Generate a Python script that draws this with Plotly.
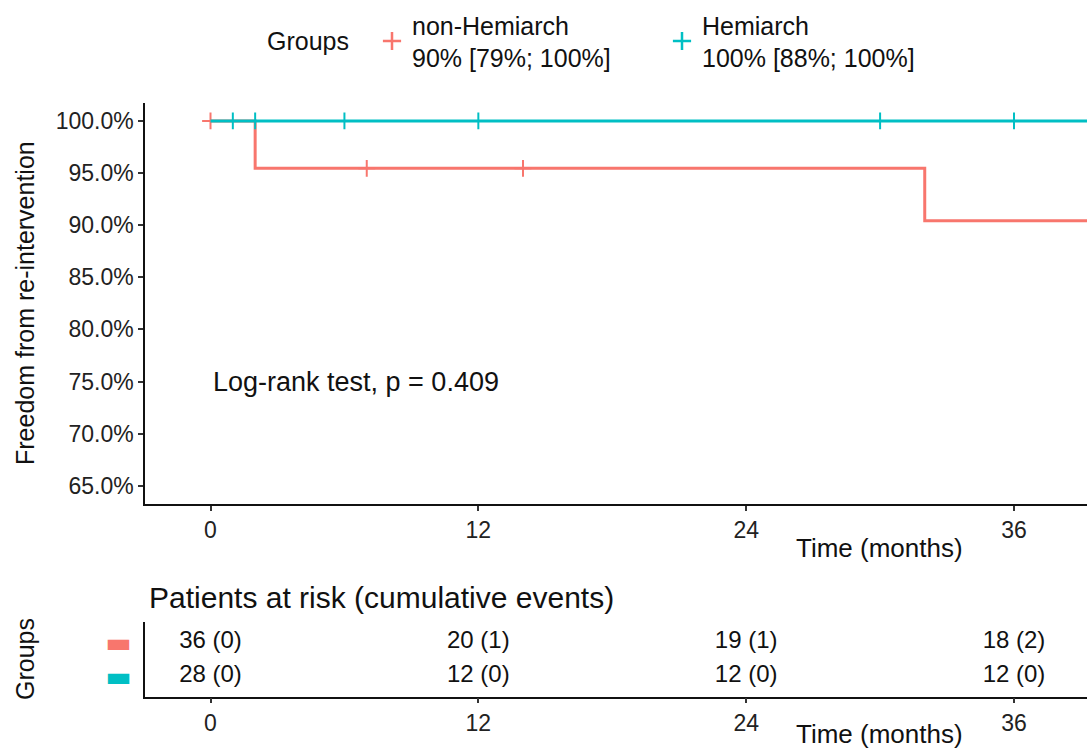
import numpy as np
import plotly.graph_objects as go

# ---------------- data ----------------
groups = ["non-Hemiarch", "Hemiarch"]
legend_title = "Groups"
legend_labels = ["non-Hemiarch<br>90% [79%; 100%]", "Hemiarch<br>100% [88%; 100%]"]
colors = ["#F8766D", "#00BFC4"]

# Kaplan-Meier step curves (time in months, survival fraction)
nh_time = [0, 2, 32, 40]
nh_surv = [1.0, 0.9545, 0.9043, 0.9043]
nh_cens_time = [0, 7, 14]

h_time = [0, 40]
h_surv = [1.0, 1.0]
h_cens_time = [1, 2, 6, 12, 30, 36]

x_ticks = [0, 12, 24, 36, 48, 60]
y_ticks = [0.65, 0.70, 0.75, 0.80, 0.85, 0.90, 0.95, 1.00]

risk_times = [0, 12, 24, 36]
nh_risk = ["36 (0)", "20 (1)", "19 (1)", "18 (2)"]
h_risk = ["28 (0)", "12 (0)", "12 (0)", "12 (0)"]

pval_text = "Log-rank test, p = 0.409"


def step_at(times, surv, t):
    idx = np.searchsorted(np.array(times), t, side="right") - 1
    return [surv[i] for i in idx]


FONT = "Liberation Sans, Arial, sans-serif"
W, H = 1087, 751
TXT = "#111"

fig = go.Figure()

curves = [
    (nh_time, nh_surv, nh_cens_time),
    (h_time, h_surv, h_cens_time),
]
for (t, s, c), col in zip(curves, colors):
    fig.add_trace(go.Scatter(x=t, y=s, mode="lines", line=dict(color=col, width=3, shape="hv"),
                             showlegend=False, hoverinfo="skip", xaxis="x", yaxis="y"))
    fig.add_trace(go.Scatter(x=c, y=step_at(t, s, c), mode="markers",
                             marker=dict(symbol="cross-thin", size=12, color=col,
                                         line=dict(color=col, width=2)),
                             showlegend=False, hoverinfo="skip", xaxis="x", yaxis="y"))

# legend entries
for lab, col in zip(legend_labels, colors):
    fig.add_trace(go.Scatter(x=[None], y=[None], mode="markers", name=lab,
                             marker=dict(symbol="cross-thin", size=13, color=col,
                                         line=dict(color=col, width=2.5)),
                             xaxis="x", yaxis="y"))

# risk table
for g, vals in zip(groups, [nh_risk, h_risk]):
    fig.add_trace(go.Scatter(x=risk_times, y=[g] * len(risk_times), mode="text", text=vals,
                             textfont=dict(family=FONT, size=24, color=TXT),
                             showlegend=False, hoverinfo="skip", xaxis="x2", yaxis="y2"))

x_dom = [145 / W, 1.0]
x_rng = [-2.935, 39.27]

axis_common = dict(showgrid=False, zeroline=False, showline=True, linecolor="#111", linewidth=1.5,
                   ticks="outside", ticklen=5, tickwidth=1.5, tickcolor="#333",
                   tickfont=dict(family=FONT, size=23, color="#222"))

fig.update_layout(
    width=W, height=H,
    margin=dict(l=0, r=0, t=0, b=0),
    paper_bgcolor="white", plot_bgcolor="white",
    font=dict(family=FONT, color=TXT),
    xaxis=dict(domain=x_dom, range=x_rng, tickvals=x_ticks, anchor="y", **axis_common),
    yaxis=dict(domain=[(H - 504) / H, (H - 102.7) / H], range=[0.6325, 1.0175],
               tickvals=y_ticks, tickformat=".1%", anchor="x", **axis_common),
    xaxis2=dict(domain=x_dom, range=x_rng, tickvals=x_ticks, anchor="y2", **axis_common),
    yaxis2=dict(domain=[(H - 696.7) / H, (H - 621.7) / H], type="category",
                categoryorder="array", categoryarray=groups[::-1], range=[-0.6, 1.6],
                tickvals=groups,
                ticktext=[f'<span style="color:{c}">▬</span>' for c in colors],
                ticklabelstandoff=6,
                showgrid=False, zeroline=False, showline=True, linecolor="#111", linewidth=1.5,
                ticks="", tickfont=dict(family="DejaVu Sans", size=28), anchor="x2"),
    legend=dict(orientation="h", x=372 / W, xanchor="left", y=(H - 41) / H, yanchor="middle",
                entrywidth=245, font=dict(family=FONT, size=25, color=TXT),
                bgcolor="rgba(0,0,0,0)"),
    annotations=[
        dict(text=legend_title, x=307.5 / W, y=(H - 41) / H, xref="paper", yref="paper",
             xanchor="center", yanchor="middle", showarrow=False,
             font=dict(family=FONT, size=25, color=TXT)),
        dict(text=pval_text, x=0, y=0.75, xref="x", yref="y", xanchor="left", yanchor="middle",
             showarrow=False, font=dict(family=FONT, size=27, color=TXT)),
        dict(text="Time (months)", x=879 / W, y=(H - 548) / H, xref="paper", yref="paper",
             xanchor="center", yanchor="middle", showarrow=False,
             font=dict(family=FONT, size=26, color=TXT)),
        dict(text="Time (months)", x=879 / W, y=0, xref="paper", yref="paper",
             xanchor="center", yanchor="bottom", showarrow=False,
             font=dict(family=FONT, size=26, color=TXT)),
        dict(text="Freedom from re-intervention", x=25 / W, y=(H - 303) / H, xref="paper",
             yref="paper", xanchor="center", yanchor="middle", textangle=-90, showarrow=False,
             font=dict(family=FONT, size=25, color=TXT)),
        dict(text="Groups", x=25 / W, y=(H - 659) / H, xref="paper", yref="paper",
             xanchor="center", yanchor="middle", textangle=-90, showarrow=False,
             font=dict(family=FONT, size=25, color=TXT)),
        dict(text="Patients at risk (cumulative events)", x=147 / W, y=(H - 597) / H,
             xref="paper", yref="paper", xanchor="left", yanchor="middle", showarrow=False,
             font=dict(family=FONT, size=30, color=TXT)),
    ],
)

fig.write_html("out.html")
